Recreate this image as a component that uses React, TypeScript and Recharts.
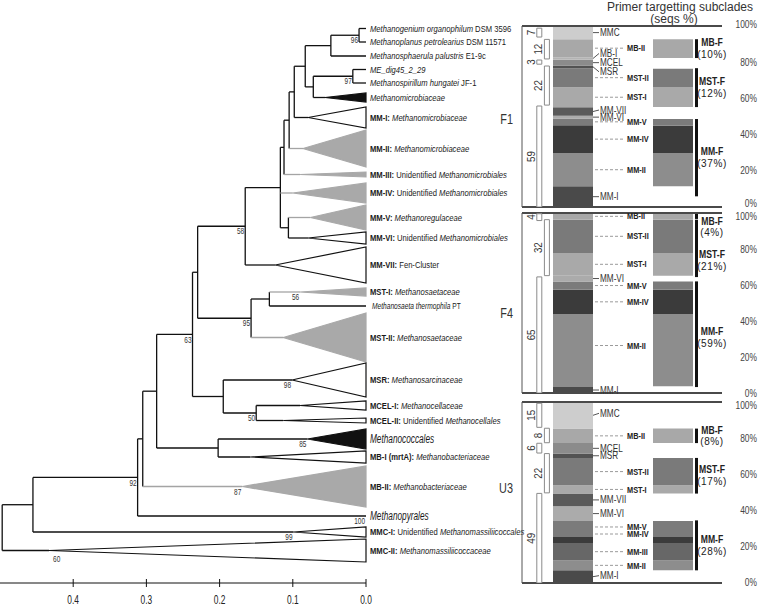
import React from 'react'
import {
  ComposedChart, BarChart, Bar, Cell, XAxis, YAxis, CartesianGrid,
  ReferenceLine, ReferenceArea, ReferenceDot, LabelList,
} from 'recharts'

const SANS = "'Liberation Sans', Arial, sans-serif"

// ---------- tree data ----------
// row: slot of a single tip, span: slots covered by a collapsed clade,
// apex: distance where the collapsed clade starts, boot: bootstrap support
type Part = [string, string]
interface Leaf {
  id: string
  parts: Part[]
  row?: number
  span?: [number, number]
  apex?: number
  fill?: 'gray' | 'black' | 'white'
  boot?: number
}

const leaves: Leaf[] = [
  { id: 'orga', parts: [['i', 'Methanogenium organophilum'], ['r', ' DSM 3596']], row: 28.5 },
  { id: 'petr', parts: [['i', 'Methanoplanus petrolearius'], ['r', ' DSM 11571']], row: 42 },
  { id: 'palu', parts: [['i', 'Methanosphaerula palustris'], ['r', ' E1-9c']], row: 56 },
  { id: 'dig', parts: [['i', 'ME_dig45_2_29']], row: 69.5 },
  { id: 'hung', parts: [['i', 'Methanospirillum hungatei'], ['r', ' JF-1']], row: 83 },
  { id: 'mmic', parts: [['i', 'Methanomicrobiaceae']], span: [93, 102], apex: 0.056, fill: 'black' },
  { id: 'mm1', parts: [['b', 'MM-I:'], ['i', ' Methanomicrobiaceae']], span: [107, 128], apex: 0.079, fill: 'white' },
  { id: 'mm2', parts: [['b', 'MM-II:'], ['i', ' Methanomicrobiaceae']], span: [130, 167], apex: 0.086, fill: 'gray' },
  { id: 'mm3', parts: [['b', 'MM-III:'], ['r', ' Unidentified '], ['i', 'Methanomicrobiales']], span: [172, 177], apex: 0.09, fill: 'gray' },
  { id: 'mm4', parts: [['b', 'MM-IV:'], ['r', ' Unidentified '], ['i', 'Methanomicrobiales']], span: [183, 203], apex: 0.1, fill: 'gray' },
  { id: 'mm5', parts: [['b', 'MM-V:'], ['i', ' Methanoregulaceae']], span: [205, 230], apex: 0.076, fill: 'gray' },
  { id: 'mm6', parts: [['b', 'MM-VI:'], ['r', ' Unidentified '], ['i', 'Methanomicrobiales']], span: [232, 244], apex: 0.079, fill: 'white' },
  { id: 'mm7', parts: [['b', 'MM-VII:'], ['r', ' Fen-Cluster']], span: [247, 283], apex: 0.124, fill: 'white' },
  { id: 'mst1', parts: [['b', 'MST-I:'], ['i', ' Methanosaetaceae']], span: [288, 296], apex: 0.09, fill: 'gray', boot: 56 },
  { id: 'ther', parts: [['i', 'Methanosaeta thermophila'], ['r', ' PT']], row: 306 },
  { id: 'mst2', parts: [['b', 'MST-II:'], ['i', ' Methanosaetaceae']], span: [313, 362], apex: 0.113, fill: 'gray' },
  { id: 'msr', parts: [['b', 'MSR:'], ['i', ' Methanosarcinaceae']], span: [363, 397], apex: 0.101, fill: 'white', boot: 98 },
  { id: 'mcel1', parts: [['b', 'MCEL-I:'], ['i', ' Methanocellaceae']], span: [401, 410], apex: 0.09, fill: 'white' },
  { id: 'mcel2', parts: [['b', 'MCEL-II:'], ['r', ' Unidentified '], ['i', 'Methanocellales']], span: [418, 423], apex: 0.113, fill: 'white' },
  { id: 'mcoc', parts: [['i', 'Methanococcales']], span: [429, 449], apex: 0.08, fill: 'black', boot: 85 },
  { id: 'mb1', parts: [['b', 'MB-I (mrtA):'], ['i', ' Methanobacteriaceae']], span: [451, 463], apex: 0.158, fill: 'white' },
  { id: 'mb2', parts: [['b', 'MB-II:'], ['i', ' Methanobacteriaceae']], span: [466, 507], apex: 0.169, fill: 'gray', boot: 87 },
  { id: 'mpyr', parts: [['i', 'Methanopyrales']], row: 516, boot: 100 },
  { id: 'mmc1', parts: [['b', 'MMC-I:'], ['r', ' Unidentified '], ['i', 'Methanomassiliicoccales']], span: [527, 537], apex: 0.099, fill: 'white', boot: 99 },
  { id: 'mmc2', parts: [['b', 'MMC-II:'], ['i', ' Methanomassiliicoccaceae']], span: [539, 562], apex: 0.433, fill: 'white', boot: 60 },
]

const nodes = [
  { id: 'n96', d: 0.0095, kids: ['orga', 'petr'], boot: 96 },
  { id: 'a1', d: 0.048, kids: ['n96', 'palu'] },
  { id: 'n97', d: 0.018, kids: ['dig', 'hung'], boot: 97 },
  { id: 'a2', d: 0.072, kids: ['n97', 'mmic'] },
  { id: 'a3', d: 0.083, kids: ['a1', 'a2'] },
  { id: 'a4', d: 0.098, kids: ['a3', 'mm1'] },
  { id: 'a5', d: 0.105, kids: ['a4', 'mm2'] },
  { id: 'a6', d: 0.112, kids: ['a5', 'mm3'] },
  { id: 'a8', d: 0.106, kids: ['mm5', 'mm6'] },
  { id: 'a7', d: 0.117, kids: ['a6', 'mm4', 'a8'] },
  { id: 'n58', d: 0.165, kids: ['a7', 'mm7'], boot: 58 },
  { id: 'n56', d: 0.132, kids: ['mst1', 'ther'] },
  { id: 'n95', d: 0.157, kids: ['n56', 'mst2'], boot: 95 },
  { id: 'c', d: 0.23, kids: ['n58', 'n95'] },
  { id: 'n50', d: 0.15, kids: ['mcel1', 'mcel2'], boot: 50 },
  { id: 'e', d: 0.195, kids: ['msr', 'n50'] },
  { id: 'n63', d: 0.237, kids: ['c', 'e'], boot: 63 },
  { id: 'h', d: 0.202, kids: ['mcoc', 'mb1'] },
  { id: 'g', d: 0.286, kids: ['n63', 'h'] },
  { id: 'i', d: 0.305, kids: ['g', 'mb2'] },
  { id: 'n92', d: 0.312, kids: ['i', 'mpyr'], boot: 92 },
  { id: 'k', d: 0.455, kids: ['n92', 'mmc1'] },
  { id: 'root', d: 0.497, kids: ['k', 'mmc2'] },
]

const distTicks = [0, 0.1, 0.2, 0.3, 0.4]

// ---------- panel data (bottom -> top, % of seqs) ----------
type Seg = [string | null, number]

const f1Sub: Seg[] = [
  ['MM-I', 11.4], ['MM-II', 18.4], ['MM-IV', 15.4], ['MM-V', 3.7], ['MM-VI', 1.5], ['MM-VII', 4.7],
  ['MST-I', 11.1], ['MST-II', 10.5], ['MSR', 1.5], ['MCEL', 3.1], ['MB-I', 1.5], ['MB-II', 9.9], ['MMC', 7.3],
]
const f1Primer: Seg[] = [
  [null, 11.4], ['MM-II', 18.4], ['MM-IV', 15.1], ['MM-V', 3.7], [null, 6.6],
  ['MST-I', 11.1], ['MST-II', 10.1], [null, 5.9], ['MB-II', 10.4],
]
const f1Lines: [string | null, number, number?][] = [
  [null, 5.9], ['MM-F', 42.7, 37], [null, 6.6], ['MST-F', 21.5, 12], [null, 5.6], ['MB-F', 10.4, 10],
]
const f1Groups: [number, number, number][] = [[59, 0, 55.8], [22, 56.3, 77.9], [3, 78.9, 81.2], [12, 81.8, 92.6], [7, 93.9, 98.8]]
const f1Right = ['MMC', 'MB-I', 'MCEL', 'MSR', 'MM-VII', 'MM-VI', 'MM-I']
const f1Mid = ['MB-II', 'MST-II', 'MST-I', 'MM-V', 'MM-IV', 'MM-II']

const f4Sub: Seg[] = [
  ['MM-I', 3.3], ['MM-II', 40.6], ['MM-IV', 13.5], ['MM-V', 4.6], ['MM-VI', 3.2],
  ['MST-I', 12.6], ['MST-II', 18.5], ['MB-II', 3.7],
]
const f4Primer: Seg[] = [
  [null, 3.7], ['MM-II', 40.2], ['MM-IV', 13.5], ['MM-V', 4.6], [null, 3.2],
  ['MST-I', 12.6], ['MST-II', 18.5], ['MB-II', 3.7],
]
const f4Lines: [string | null, number, number?][] = [
  [null, 3.3], ['MM-F', 58.7, 59], [null, 2.4], ['MST-F', 31.9, 21], [null, 0.4], ['MB-F', 3.3, 4],
]
const f4Groups: [number, number, number][] = [[65, 0, 64.5], [32, 65.2, 96.3], [4, 95.8, 99.6]]
const f4Right = ['MM-VI', 'MM-I']
const f4Mid = ['MB-II', 'MST-II', 'MST-I', 'MM-V', 'MM-IV', 'MM-II']

const u3Sub: Seg[] = [
  ['MM-I', 7.0], ['MM-II', 5.5], ['MM-III', 9.6], ['MM-IV', 3.3], ['MM-V', 8.9], ['MM-VI', 8.1], ['MM-VII', 7.0],
  ['MST-I', 4.6], ['MST-II', 15.1], ['MSR', 2.4], ['MCEL', 5.8], ['MB-II', 8.0], ['MMC', 14.7],
]
const u3Primer: Seg[] = [
  [null, 7.0], ['MM-II', 5.5], ['MM-III', 9.6], ['MM-IV', 3.3], ['MM-V', 8.9], [null, 15.1],
  ['MST-I', 4.6], ['MST-II', 15.1], [null, 8.2], ['MB-II', 8.0],
]
const u3Lines: [string | null, number, number?][] = [
  [null, 7.0], ['MM-F', 27.6, 28], [null, 14.8], ['MST-F', 19.7, 17], [null, 8.2], ['MB-F', 8.0, 8],
]
const u3Groups: [number, number, number][] = [[49, 0, 49.5], [22, 49.8, 71.5], [6, 71.8, 77.2], [8, 77.5, 85.5], [15, 86, 99.3]]
const u3Right = ['MMC', 'MCEL', 'MSR', 'MM-VII', 'MM-VI', 'MM-I']
const u3Mid = ['MB-II', 'MST-II', 'MST-I', 'MM-V', 'MM-IV', 'MM-III', 'MM-II']

const pctTicks = [0, 20, 40, 60, 80, 100]

// ---------- styles ----------
const shade: Record<string, string> = {
  MMC: '#cdcdcd', 'MB-II': '#a8a8a8', 'MB-I': '#b4b4b4', MCEL: '#8b8b8b', MSR: '#525252',
  'MST-II': '#7a7a7a', 'MST-I': '#a9a9a9', 'MM-VII': '#5a5a5a', 'MM-VI': '#ababab', 'MM-V': '#7b7b7b',
  'MM-IV': '#3b3b3b', 'MM-III': '#676767', 'MM-II': '#8d8d8d', 'MM-I': '#4a4a4a',
}
const triStyle = {
  gray: { fill: '#a9a9a9', stroke: '#a9a9a9' },
  black: { fill: '#111', stroke: '#111' },
  white: { fill: '#fff', stroke: '#111' },
}

const panels = [
  { name: 'F1', top: 26, height: 181, sub: f1Sub, primer: f1Primer, lines: f1Lines, groups: f1Groups,
    right: f1Right, mid: f1Mid, nudge: { 'MB-I': -5, MSR: 5, 'MM-VII': -1.5 } as Record<string, number>,
    lineNudge: {} as Record<string, number>, nameDy: 2, pctDy: { 0: -4, 100: -2 } as Record<number, number> },
  { name: 'F4', top: 213, height: 180, sub: f4Sub, primer: f4Primer, lines: f4Lines, groups: f4Groups,
    right: f4Right, mid: f4Mid, nudge: { 'MM-II': -5 } as Record<string, number>,
    lineNudge: { 'MB-F': 11, 'MST-F': 12, 'MM-F': 3 } as Record<string, number>, nameDy: 10,
    pctDy: { 0: 0, 100: 3 } as Record<number, number> },
  { name: 'U3', top: 402, height: 181, sub: u3Sub, primer: u3Primer, lines: u3Lines, groups: u3Groups,
    right: u3Right, mid: u3Mid, nudge: { MMC: -2, 'MM-V': -2, 'MM-IV': -6, 'MM-I': -1 } as Record<string, number>,
    lineNudge: {} as Record<string, number>, nameDy: -5, pctDy: { 0: -1, 100: 3 } as Record<number, number> },
]

// condensed text: the figure uses a narrow face, emulated by a horizontal squeeze
function NText({ x, y, sx = 0.82, rotate = 0, anchor = 'start', size, children, ...rest }: any) {
  return (
    <text transform={`translate(${x},${y})${rotate ? ` rotate(${rotate})` : ''} scale(${sx},1)`} x={0} y={0}
      dy="0.35em" textAnchor={anchor} fontSize={size} fontFamily={SANS} {...rest}>
      {children}
    </text>
  )
}

// ---------- tree layout ----------
const leafById: Record<string, Leaf> = Object.fromEntries(leaves.map((l) => [l.id, l]))
const nodeById: Record<string, any> = Object.fromEntries(nodes.map((n) => [n.id, n]))

function yOf(id: string): number {
  const l = leafById[id]
  if (l) return l.span ? (l.span[0] + l.span[1]) / 2 : (l.row as number)
  const n = nodeById[id]
  return (yOf(n.kids[0]) + yOf(n.kids[n.kids.length - 1])) / 2
}
function endOf(id: string): number {
  const l = leafById[id]
  if (l) return l.apex ?? 0
  return nodeById[id].d
}

const branches: { x1: number; y1: number; x2: number; y2: number; gray: boolean }[] = []
nodes.forEach((n) => {
  const ys = n.kids.map(yOf)
  branches.push({ x1: n.d, y1: ys[0], x2: n.d, y2: ys[ys.length - 1], gray: false })
  n.kids.forEach((k, i) => {
    branches.push({ x1: n.d, y1: ys[i], x2: endOf(k), y2: ys[i], gray: leafById[k]?.fill === 'gray' })
  })
})

const supports = [
  ...nodes.filter((n) => n.boot).map((n) => ({ id: n.id, x: n.d, y: yOf(n.id), boot: n.boot as number })),
  ...leaves.filter((l) => l.boot).map((l) => ({ id: l.id, x: l.apex ?? 0, y: yOf(l.id), boot: l.boot as number })),
]
const leafRows = leaves.map((l) => yOf(l.id))
const leafByRow = new Map(leaves.map((l) => [yOf(l.id), l]))
const bigLeaves = ['mcoc', 'mpyr']

const DistTick = ({ x, y, payload }: any) => (
  <g>
    <line x1={x} x2={x} y1={y - 4} y2={y + 4} stroke="#111" />
    <NText x={x} y={y + 17} anchor="middle" size={12} sx={0.7} fill="#222">{Number(payload.value).toFixed(1)}</NText>
  </g>
)

const LeafTick = ({ x, y, payload }: any) => {
  const leaf = leafByRow.get(payload.value)
  if (!leaf) return null
  const big = bigLeaves.includes(leaf.id)
  const small = leaf.id === 'ther'
  return (
    <NText x={x + (small ? 6 : 4)} y={y} size={big ? 12.5 : small ? 8.5 : 9.8} sx={big ? 0.66 : 0.78} fill="#1a1a1a">
      {leaf.parts.map(([s, t], i) => (
        <tspan key={i} fontWeight={s === 'b' ? 'bold' : 'normal'} fontStyle={s === 'i' ? 'italic' : 'normal'}>{t}</tspan>
      ))}
    </NText>
  )
}

function Tree() {
  return (
    <ComposedChart width={620} height={606} data={[]} margin={{ top: 0, right: 0, bottom: 0, left: 0 }}>
      <XAxis type="number" dataKey="d" domain={[0, 0.5]} reversed allowDataOverflow ticks={distTicks}
        tick={<DistTick />} tickLine={false} tickSize={0} tickMargin={0} height={23}
        axisLine={{ stroke: '#111' }} interval={0} />
      <YAxis type="number" orientation="right" domain={[0, 583]} reversed allowDataOverflow ticks={leafRows}
        interval={0} tick={<LeafTick />} tickLine={false} axisLine={false} tickSize={0} tickMargin={0} width={254} />
      {leaves.filter((l) => l.span).map((l) => {
        const st = triStyle[l.fill as 'gray']
        return (
          <ReferenceArea key={l.id} x1={l.apex} x2={0} y1={l.span![0]} y2={l.span![1]}
            shape={(p: any) => (
              <polygon points={`${p.x},${p.y + p.height / 2} ${p.x + p.width},${p.y} ${p.x + p.width},${p.y + p.height}`}
                fill={st.fill} stroke={st.stroke} strokeWidth={1.2} />
            )} />
        )
      })}
      {branches.map((b, i) => (
        <ReferenceLine key={i} segment={[{ x: b.x1, y: b.y1 }, { x: b.x2, y: b.y2 }]}
          stroke={b.gray ? '#a4a4a4' : '#111'} strokeWidth={1.3} />
      ))}
      {supports.map((s) => (
        <ReferenceDot key={s.id} x={s.x} y={s.y} r={1} fill="none" stroke="none"
          label={(p: any) => {
            const vb = p.viewBox
            const cx = vb.x + vb.width / 2
            const cy = vb.y + vb.height / 2
            const start = s.id === 'mmc2'
            return (
              <NText x={start ? cx + 4 : cx - 1} y={start ? cy + 8 : cy + 5} anchor={start ? 'start' : 'end'}
                size={9} sx={0.72} fill="#333">{s.boot}</NText>
            )
          }} />
      ))}
    </ComposedChart>
  )
}

// ---------- panels ----------
const range = (n: number) => Array.from({ length: n }, (_, i) => i)
const boxOf = (p: any) => {
  const v = p.viewBox && p.viewBox.width !== undefined ? p.viewBox : p
  const y = Math.min(v.y, v.y + v.height)
  return { x: v.x, y, width: v.width, height: Math.abs(v.height) }
}

function PanelBars({ p }: { p: (typeof panels)[number] }) {
  const nMain = Math.max(p.sub.length, p.primer.length)
  const rowSub: any = { col: 'sub' }
  const rowPr: any = { col: 'primer' }
  p.sub.forEach(([, v], i) => { rowSub['s' + i] = v })
  p.primer.forEach(([, v], i) => { rowPr['s' + i] = v })
  p.lines.forEach(([, v], i) => { rowSub['l' + i] = 0; rowPr['l' + i] = v })
  const rows = [rowSub, rowPr]

  const PctTick = ({ x, y, payload }: any) => (
    <NText x={x + 35} y={y + (p.pctDy[payload.value] ?? 0)} anchor="end"
      size={10.5} sx={0.8} fill="#444">{payload.value}%</NText>
  )

  const subLabel = (name: string | null | undefined) => (lp: any) => {
    if (lp.index !== 0 || !name) return null
    const b = boxOf(lp)
    const right = b.x + b.width
    const cy = b.y + b.height / 2
    const ly = cy + (p.nudge[name] ?? 0)
    if (p.right.includes(name)) {
      return (
        <g>
          <line x1={right} y1={cy} x2={right + 6} y2={ly} stroke="#555" />
          <NText x={right + 7} y={ly} size={10} fill="#333">{name}</NText>
        </g>
      )
    }
    if (p.mid.includes(name)) {
      return (
        <g>
          <line x1={right + 2} x2={right + 32} y1={ly} y2={ly} stroke="#9a9a9a" strokeDasharray="3 2" />
          <NText x={right + 34} y={ly} size={9} fontWeight="bold" fill="#222">{name}</NText>
        </g>
      )
    }
    return null
  }

  const lineLabel = (name: string | null, share?: number) => (lp: any) => {
    if (!name) return null
    const b = boxOf(lp)
    if (b.height < 1) return null
    const cx = b.x + b.width + 14
    const cy = b.y + b.height / 2 + (p.lineNudge[name] ?? 0)
    return (
      <g>
        <NText x={cx} y={cy - 6} anchor="middle" size={10.5} fontWeight="bold" fill="#222">{name}</NText>
        <text x={cx} y={cy + 6} dy="0.35em" textAnchor="middle" fontSize={10} letterSpacing={0.6} fontFamily={SANS} fill="#222">({share}%)</text>
      </g>
    )
  }

  return (
    <BarChart width={280} height={p.height + 20} data={rows} margin={{ top: 10, right: 0, bottom: 10, left: 0 }} barGap={2}>
      <CartesianGrid yAxisId="l" vertical={false} stroke="#d6d6d6" />
      <XAxis dataKey="col" hide padding={{ left: 3, right: -3 }} />
      <YAxis yAxisId="l" domain={[0, 100]} ticks={pctTicks} allowDataOverflow tick={false} tickLine={false}
        axisLine={{ stroke: '#555' }} width={42}
        label={(lp: any) => {
          const vb = lp.viewBox
          return (
            <NText x={vb.x + vb.width - 9} y={vb.y + vb.height / 2 + p.nameDy} anchor="end"
              size={14.5} sx={0.75} fill="#333">{p.name}</NText>
          )
        }} />
      <YAxis yAxisId="r" orientation="right" domain={[0, 100]} ticks={pctTicks} allowDataOverflow tick={<PctTick />}
        tickLine={false} axisLine={false} tickSize={0} tickMargin={0} width={38} />
      <ReferenceLine yAxisId="l" y={100} stroke="#4a4a4a" strokeWidth={2} />
      <ReferenceLine yAxisId="l" y={0} stroke="#4a4a4a" strokeWidth={2} />
      {range(nMain).map((i) => (
        <Bar key={'s' + i} dataKey={'s' + i} stackId="m" yAxisId="l" barSize={40} isAnimationActive={false}>
          {rows.map((_, j) => {
            const seg = j === 0 ? p.sub[i] : p.primer[i]
            return <Cell key={j} fill={seg && seg[0] ? shade[seg[0]] : 'none'} />
          })}
          <LabelList content={subLabel(p.sub[i]?.[0])} />
        </Bar>
      ))}
      {p.lines.map(([name, , share], i) => (
        <Bar key={'l' + i} dataKey={'l' + i} stackId="ln" yAxisId="l" barSize={3} isAnimationActive={false}>
          {rows.map((_, j) => <Cell key={j} fill={name ? '#111' : 'none'} />)}
          <LabelList content={lineLabel(name, share)} />
        </Bar>
      ))}
    </BarChart>
  )
}

function PanelGroups({ p }: { p: (typeof panels)[number] }) {
  const cols: { n: number | null; v: number }[][] = [[], []]
  const tops = [0, 0]
  p.groups.forEach(([n, lo, hi], i) => {
    const c = i % 2
    cols[c].push({ n: null, v: lo - tops[c] })
    cols[c].push({ n, v: hi - lo })
    tops[c] = hi
  })
  const rows = cols.map((c, ci) => {
    const r: any = { col: ci ? 'R' : 'L' }
    c.forEach((s, i) => { r['g' + i] = s.v })
    return r
  })
  const n = Math.max(cols[0].length, cols[1].length)
  return (
    <BarChart width={80} height={p.height + 20} data={rows} margin={{ top: 10, right: 9, bottom: 10, left: 55.8 }}>
      <XAxis dataKey="col" hide />
      <YAxis hide domain={[0, 100]} allowDataOverflow width={0} />
      {range(n).map((i) => (
        <Bar key={i} dataKey={'g' + i} stackId="g" barSize={5} isAnimationActive={false}>
          {cols.map((c, ci) => {
            const s = c[i]
            const box = s && s.n
            return <Cell key={ci} fill={box ? '#fff' : 'none'} stroke={box ? '#8a8a8a' : 'none'} strokeWidth={1} />
          })}
          <LabelList content={(lp: any) => {
            const s = cols[lp.index]?.[i]
            if (!s || !s.n) return null
            const b = boxOf(lp)
            return (
              <NText x={b.x - 6} y={b.y + b.height / 2} rotate={-90} anchor="middle" size={11.5} sx={0.85} fill="#333">{s.n}</NText>
            )
          }} />
        </Bar>
      ))}
    </BarChart>
  )
}

export default function App() {
  return (
    <div style={{ position: 'absolute', left: 0, top: 0, width: 760, height: 606, background: '#fff', overflow: 'hidden' }}>
      <div style={{ position: 'absolute', left: 0, top: 0 }}>
        <Tree />
      </div>
      <div style={{ position: 'absolute', left: 600, top: 1, width: 160, textAlign: 'center', fontFamily: SANS,
        fontSize: 12, lineHeight: '12px', color: '#333' }}>
        <div>Primer targetting subclades</div>
        <div style={{ marginRight: 12 }}>(seqs %)</div>
      </div>
      {panels.map((p) => (
        <React.Fragment key={p.name}>
          <div style={{ position: 'absolute', left: 480, top: p.top - 10 }}>
            <PanelBars p={p} />
          </div>
          <div style={{ position: 'absolute', left: 480, top: p.top - 10 }}>
            <PanelGroups p={p} />
          </div>
        </React.Fragment>
      ))}
    </div>
  )
}
